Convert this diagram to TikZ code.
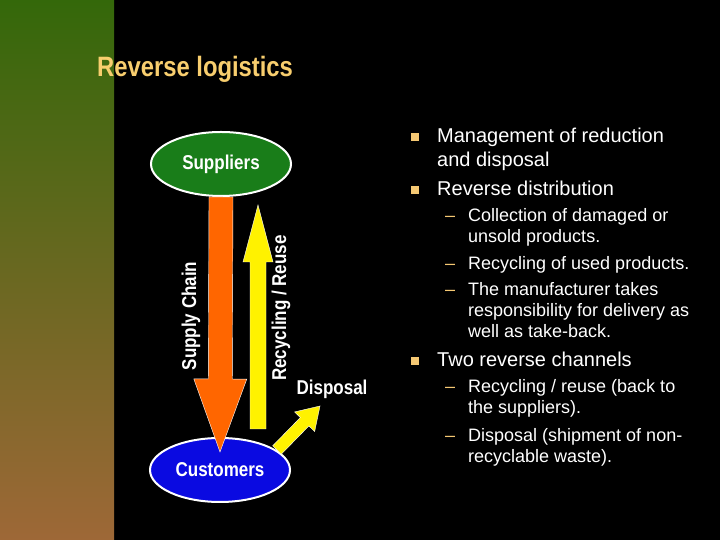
\documentclass[tikz,border=0pt]{standalone}
\usepackage{fontspec}
\setmainfont{Liberation Sans}
\newfontfamily\condfont[FakeStretch=0.85]{Liberation Sans}
\usetikzlibrary{calc,shapes.geometric}
\definecolor{titlegold}{RGB}{248,206,110}
\definecolor{bulletgold}{RGB}{245,200,115}
\definecolor{supgreen}{RGB}{25,125,25}
\definecolor{cusblue}{RGB}{10,10,225}
\definecolor{chainorange}{RGB}{255,102,0}
\definecolor{stripgreen}{RGB}{52,104,10}
\definecolor{stripolive}{RGB}{122,104,42}
\definecolor{stripbrown}{RGB}{158,104,55}

% block arrow: start, tip, half shaft, half head, head length, colour
\newcommand{\blockarrow}[6]{%
	\coordinate (ba-h) at ($(#2)!#5!(#1)$);
	\filldraw[draw=white, thin, fill=#6]
		($(#1)!#3!90:(#2)$) -- ($(ba-h)!#3!90:(#2)$) -- ($(ba-h)!#4!90:(#2)$) -- (#2)
		-- ($(ba-h)!#4!-90:(#2)$) -- ($(ba-h)!#3!-90:(#2)$) -- ($(#1)!#3!-90:(#2)$) -- cycle;
}

\tikzset{
	party/.style={ellipse, draw=white, line width=2pt, minimum width=140, minimum height=64, text=white, font=\condfont\bfseries\fontsize{20}{24}\selectfont},
	flowlabel/.style={text=white, inner sep=0pt, font=\condfont\bfseries\fontsize{20}{24}\selectfont},
	mainitem/.style={anchor=base west, inner sep=0pt, text=white, font=\fontsize{20}{24}\selectfont},
	subitem/.style={anchor=base west, inner sep=0pt, text=white, font=\fontsize{18}{21}\selectfont},
	bulletsq/.style={fill=bulletgold, minimum size=8pt, inner sep=0pt},
}

\begin{document}
\begin{tikzpicture}[x=1pt, y=1pt]
	\useasboundingbox (0,0) rectangle (720,540);
	\fill[black] (0,0) rectangle (720,540);
	\shade[top color=stripgreen, middle color=stripolive, bottom color=stripbrown] (0,0) rectangle (114,540);

	\node[anchor=base west, inner sep=0pt, text=titlegold, font=\condfont\bfseries\fontsize{28}{32}\selectfont] (title) at (97,463) {Reverse logistics};

	% suppliers and customers
	\node[party, fill=supgreen] (sup) at (221,376) {Suppliers};
	\node[party, fill=cusblue] (cus) at (220,70) {Customers};

	% flows
	\coordinate (chain-end) at ($(cus.north)+(0,-15)$);
	\blockarrow{sup.south}{chain-end}{12pt}{26.5pt}{73pt}{chainorange}
	\coordinate (rec-start) at (258,111);
	\coordinate (rec-end) at (258,335);
	\blockarrow{rec-start}{rec-end}{8pt}{15pt}{57pt}{yellow}
	\coordinate (disp-start) at (277,90);
	\coordinate (disp-end) at (320,134);
	\blockarrow{disp-start}{disp-end}{6pt}{14pt}{22pt}{yellow}

	\node[flowlabel, rotate=90, anchor=base] (chain) at (196,224) {Supply Chain};
	\node[flowlabel, rotate=90, anchor=base] (rec) at (286,232) {Recycling / Reuse};
	\node[flowlabel, anchor=base] (disp) at (332,145) {Disposal};

	% bullet list
	\foreach \y [count=\i] in {403,350,179}
		\node[bulletsq] (b\i) at (414.5,\y) {};
	\node[mainitem] (m1) at (437,397) {\begin{tabular}[t]{@{}l@{}}Management of reduction\\and disposal\end{tabular}};
	\node[mainitem] (m2) at (437,344) {Reverse distribution};
	\node[mainitem] (m3) at (437,173) {Two reverse channels};

	\foreach \y [count=\i] in {318,270,244,147,98}
		\node[subitem, text=bulletgold] (d\i) at (445,\y) {--};
	\node[subitem] (s1) at (468,318) {\begin{tabular}[t]{@{}l@{}}Collection of damaged or\\unsold products.\end{tabular}};
	\node[subitem] (s2) at (468,270) {Recycling of used products.};
	\node[subitem] (s3) at (468,244) {\begin{tabular}[t]{@{}l@{}}The manufacturer takes\\responsibility for delivery as\\well as take-back.\end{tabular}};
	\node[subitem] (s4) at (468,147) {\begin{tabular}[t]{@{}l@{}}Recycling / reuse (back to\\the suppliers).\end{tabular}};
	\node[subitem] (s5) at (468,98) {\begin{tabular}[t]{@{}l@{}}Disposal (shipment of non-\\recyclable waste).\end{tabular}};
\end{tikzpicture}
\end{document}
